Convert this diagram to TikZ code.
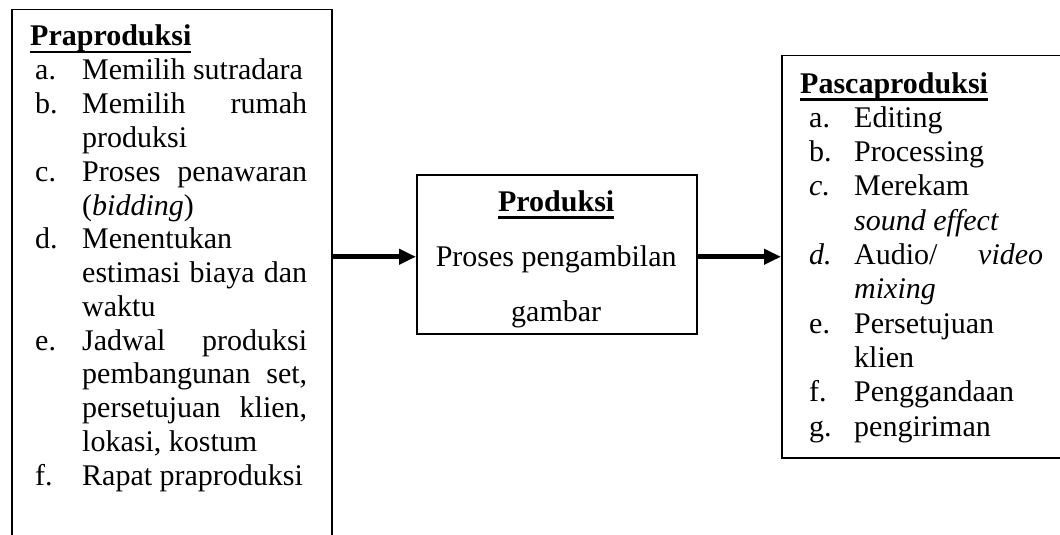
\documentclass[tikz,border=0pt]{standalone}
\usepackage{fontspec}
\setmainfont{Liberation Serif}
\usetikzlibrary{arrows.meta}
\newcommand\ulbf[1]{\setbox0=\hbox{\bfseries #1}\rlap{\rule[-7.5pt]{\wd0}{2.2pt}}\box0}
\newcommand\lineL[2]{\hbox{\kern5pt\makebox[47pt][l]{#1}#2}}
\newcommand\lineR[2]{\hbox{\kern9pt\makebox[45pt][l]{#1}#2}}
\newcommand\jL[1]{\makebox[225pt][s]{#1}}
\newcommand\jR[1]{\makebox[189pt][s]{#1}}
\begin{document}
\begin{tikzpicture}[x=1pt,y=-1pt,
  boxst/.style={draw, line width=1.5pt, inner sep=0pt, rectangle, anchor=north west},
  arr/.style={line width=5pt, -{Triangle[length=17pt,width=15pt]}},
  txt/.style={inner sep=0pt, anchor=base west, font=\fontsize{30}{34}\selectfont}]
\useasboundingbox (0,0) rectangle (1060,535);
\clip (0,0) rectangle (1060,535);
% boxes
\node[boxst, minimum width=320pt, minimum height=560pt] (pra) at (11,9) {};
\node[boxst, minimum width=280pt, minimum height=159pt] (prod) at (416,174) {};
\node[boxst, minimum width=320pt, minimum height=402pt] (pasca) at (781,55) {};
% texts
\node[txt] (praT) at (30,46) {\vtop{\baselineskip=33.8pt\lineskiplimit=-100pt\lineskip=0pt
  \hbox{\ulbf{Praproduksi}}
  \lineL{a.}{Memilih sutradara}
  \lineL{b.}{\jL{Memilih rumah}}
  \lineL{}{produksi}
  \lineL{c.}{\jL{Proses penawaran}}
  \lineL{}{(\textit{bidding})}
  \lineL{d.}{Menentukan}
  \lineL{}{\jL{estimasi biaya dan}}
  \lineL{}{waktu}
  \lineL{e.}{\jL{Jadwal produksi}}
  \lineL{}{\jL{pembangunan set,}}
  \lineL{}{\jL{persetujuan klien,}}
  \lineL{}{lokasi, kostum}
  \lineL{f.}{Rapat praproduksi}}};
\node[txt] (prodT) at (416,211) {\vtop{\baselineskip=55pt\lineskiplimit=-100pt\lineskip=0pt
  \hbox to 280pt{\hss\ulbf{Produksi}\hss}
  \hbox to 280pt{\hss Proses pengambilan\hss}
  \hbox to 280pt{\hss gambar\hss}}};
\node[txt] (pascaT) at (800,93) {\vtop{\baselineskip=34.3pt\lineskiplimit=-100pt\lineskip=0pt
  \hbox{\ulbf{Pascaproduksi}}
  \lineR{a.}{Editing}
  \lineR{b.}{Processing}
  \lineR{\textit{c.}}{Merekam}
  \lineR{}{\textit{sound effect}}
  \lineR{\textit{d.}}{\jR{Audio/ \textit{video}}}
  \lineR{}{\textit{mixing}}
  \lineR{e.}{Persetujuan}
  \lineR{}{klien}
  \lineR{f.}{Penggandaan}
  \lineR{g.}{pengiriman}}};
% arrows
\draw[arr] ([yshift=-2.5pt]prod.west -| pra.east) -- ([yshift=-2.5pt]prod.west);
\draw[arr] ([yshift=-2.5pt]prod.east) -- ([yshift=-2.5pt]prod.east -| pasca.west);
\end{tikzpicture}
\end{document}
